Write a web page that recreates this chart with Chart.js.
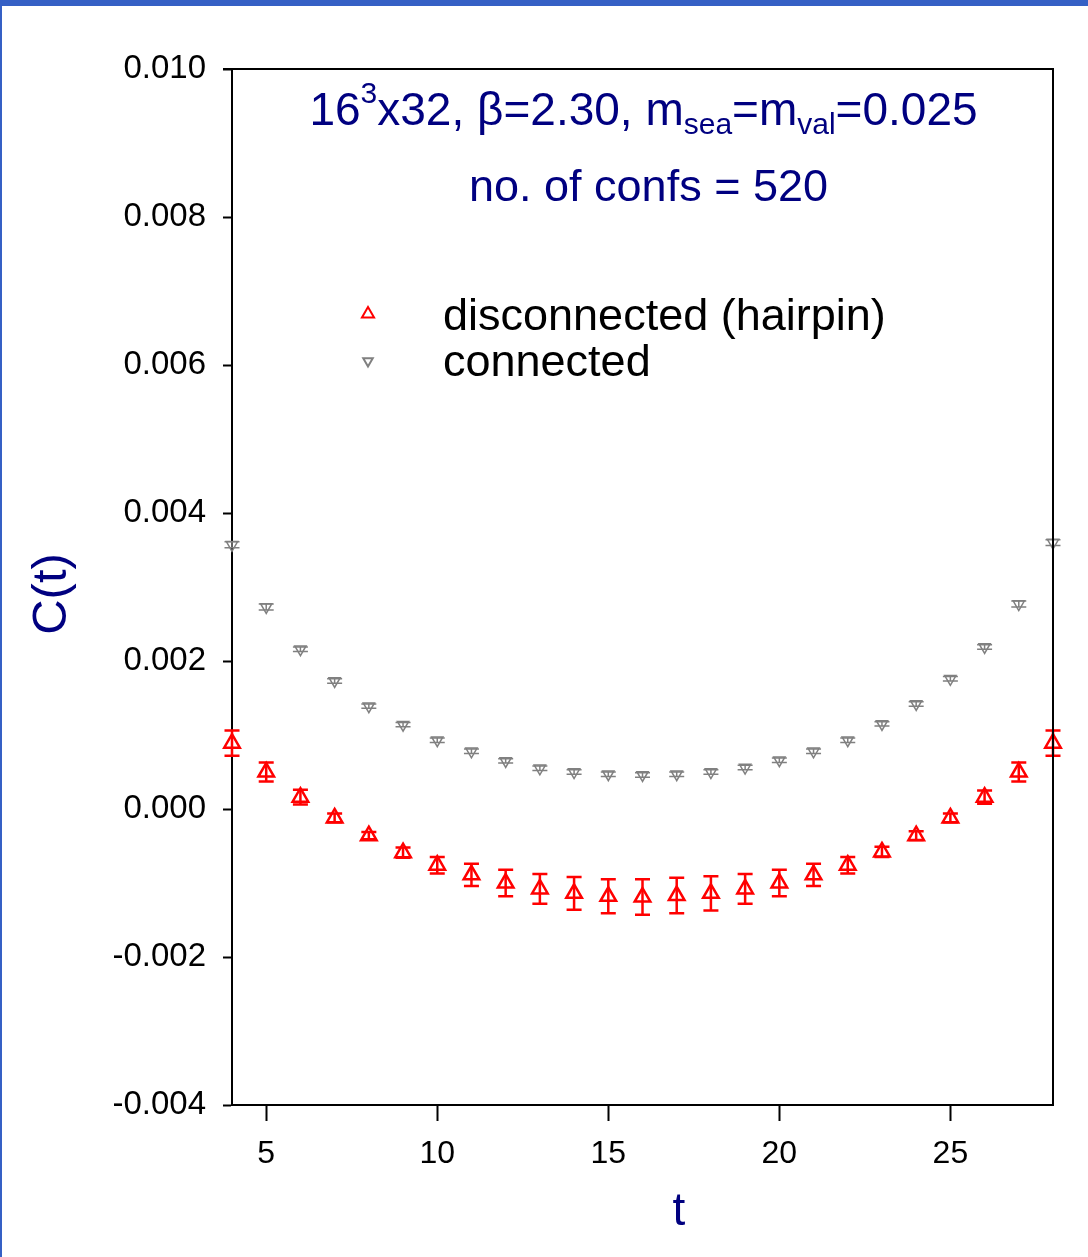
<!DOCTYPE html>
<html>
<head>
<meta charset="utf-8">
<script src="https://cdn.jsdelivr.net/npm/chart.js@4.4.1/dist/chart.umd.min.js"></script>
<style>
  html, body { margin: 0; padding: 0; background: #fff; }
  #wrap { position: relative; width: 1088px; height: 1257px; overflow: hidden; }
  #frameTop { position: absolute; left: 0; top: 0; width: 1088px; height: 6px; background: #3560c5; }
  #frameLeft { position: absolute; left: 0; top: 0; width: 2px; height: 1257px; background: #3560c5; }
</style>
</head>
<body>
<div id="wrap">
  <canvas id="corrChart" width="1088" height="1257"></canvas>
  <div id="frameTop"></div>
  <div id="frameLeft"></div>
</div>
<script>
// Data
const tValues = [4, 5, 6, 7, 8, 9, 10, 11, 12, 13, 14, 15, 16, 17, 18, 19, 20, 21, 22, 23, 24, 25, 26, 27, 28];

const connectedC = [0.00357, 0.00273, 0.00216, 0.00173, 0.00139, 0.00114, 0.00093, 0.00078, 0.00065,
  0.00055, 0.00050, 0.00047, 0.00046, 0.00047, 0.00050, 0.00056, 0.00066, 0.00078, 0.00093,
  0.00115, 0.00142, 0.00176, 0.00219, 0.00277, 0.00360];
const connectedErr = [0.00004, 0.00004, 0.00003, 0.00003, 0.00003, 0.00003, 0.00003, 0.00003, 0.00003,
  0.00003, 0.00003, 0.00003, 0.00003, 0.00003, 0.00003, 0.00003, 0.00003, 0.00003, 0.00003,
  0.00003, 0.00003, 0.00003, 0.00003, 0.00004, 0.00004];

const hairpinC = [0.00089, 0.00050, 0.00016, -0.00012, -0.00036, -0.00059, -0.00076, -0.00089, -0.00100,
  -0.00108, -0.00114, -0.00118, -0.00119, -0.00117, -0.00114, -0.00108, -0.00100, -0.00089, -0.00076,
  -0.00058, -0.00036, -0.00012, 0.00016, 0.00050, 0.00089];
const hairpinErr = [0.00017, 0.00013, 0.00010, 0.00006, 0.00005, 0.00007, 0.00011, 0.00015, 0.00018,
  0.00020, 0.00022, 0.00023, 0.00024, 0.00024, 0.00023, 0.00020, 0.00018, 0.00015, 0.00011,
  0.00007, 0.00006, 0.00006, 0.00009, 0.00013, 0.00017];

const xTickValues = [5, 10, 15, 20, 25];
const yTickValues = [-0.004, -0.002, 0.000, 0.002, 0.004, 0.006, 0.008, 0.010];

const FONT = '"Liberation Sans", Arial, sans-serif';
const NAVY = '#000080';

function toPoints(ys, errs) {
  return tValues.map((t, i) => ({ x: t, y: ys[i], err: errs[i] }));
}

// vertical error bars with caps, drawn through the y scale
const errorBars = {
  id: 'errorBars',
  afterDatasetsDraw(chart) {
    const ctx = chart.ctx;
    const yScale = chart.scales.y;
    chart.data.datasets.forEach((ds, di) => {
      const meta = chart.getDatasetMeta(di);
      ctx.save();
      ctx.strokeStyle = ds.borderColor;
      ctx.lineWidth = ds.errWidth;
      meta.data.forEach((pt, i) => {
        const d = ds.data[i];
        const top = yScale.getPixelForValue(d.y + d.err);
        const bot = yScale.getPixelForValue(d.y - d.err);
        const x = pt.x;
        const cap = 7.5;
        ctx.beginPath();
        ctx.moveTo(x, top); ctx.lineTo(x, bot);
        ctx.moveTo(x - cap, top); ctx.lineTo(x + cap, top);
        ctx.moveTo(x - cap, bot); ctx.lineTo(x + cap, bot);
        ctx.stroke();
      });
      ctx.restore();
    });
  }
};

// frame on top/right, titles, legend, axis titles
const decorations = {
  id: 'decorations',
  afterDraw(chart) {
    const ctx = chart.ctx;
    const a = chart.chartArea;
    ctx.save();
    ctx.strokeStyle = '#000';
    ctx.lineWidth = 2;
    ctx.beginPath();
    ctx.moveTo(a.left - 9, a.top); ctx.lineTo(a.right, a.top); ctx.lineTo(a.right, a.bottom);
    ctx.stroke();

    // title line 1 with super/subscripts
    const big = 46, small = 30;
    const parts = [
      { s: '16', f: big, dy: 0 },
      { s: '3', f: small, dy: -22 },
      { s: 'x32, \u03b2=2.30, m', f: big, dy: 0 },
      { s: 'sea', f: small, dy: 9 },
      { s: '=m', f: big, dy: 0 },
      { s: 'val', f: small, dy: 9 },
      { s: '=0.025', f: big, dy: 0 }
    ];
    let total = 0;
    parts.forEach(p => { ctx.font = p.f + 'px ' + FONT; p.w = ctx.measureText(p.s).width; total += p.w; });
    const cx = (a.left + a.right) / 2;
    let x = cx + 1 - total / 2;
    ctx.fillStyle = NAVY;
    ctx.textBaseline = 'alphabetic';
    ctx.textAlign = 'left';
    parts.forEach(p => {
      ctx.font = p.f + 'px ' + FONT;
      ctx.fillText(p.s, x, 125 + p.dy);
      x += p.w;
    });
    ctx.font = '45px ' + FONT;
    ctx.textAlign = 'center';
    ctx.fillText('no. of confs = 520', cx + 6, 201);

    // legend
    const legendRows = [
      { ds: chart.data.datasets[0], y: 330, my: 314 },
      { ds: chart.data.datasets[1], y: 376, my: 361 }
    ];
    legendRows.forEach(r => {
      ctx.strokeStyle = r.ds.borderColor;
      ctx.fillStyle = 'rgba(0,0,0,0)';
      Chart.helpers.drawPoint(ctx, {
        pointStyle: 'triangle', rotation: r.ds.rotation, radius: r.ds.legendRadius, borderWidth: r.ds.borderWidth
      }, a.left + 136, r.my);
      ctx.fillStyle = '#000';
      ctx.textAlign = 'left';
      ctx.font = '45px ' + FONT;
      ctx.fillText(r.ds.label, a.left + 211, r.y);
    });

    // axis titles
    ctx.fillStyle = NAVY;
    ctx.textAlign = 'center';
    ctx.font = '46px ' + FONT;
    ctx.fillText('t', 679, 1225);
    ctx.save();
    ctx.translate(66, 594);
    ctx.rotate(-Math.PI / 2);
    ctx.font = '49px ' + FONT;
    ctx.fillText('C(t)', 0, 0);
    ctx.restore();
    ctx.restore();
  }
};

new Chart(document.getElementById('corrChart'), {
  type: 'scatter',
  data: {
    datasets: [
      {
        label: 'disconnected (hairpin)',
        data: toPoints(hairpinC, hairpinErr),
        pointStyle: 'triangle',
        rotation: 0,
        pointRadius: 9,
        legendRadius: 7,
        borderColor: '#ff0000',
        backgroundColor: 'rgba(0,0,0,0)',
        borderWidth: 2.5,
        errWidth: 2.5,
        clip: false,
        showLine: false
      },
      {
        label: 'connected',
        data: toPoints(connectedC, connectedErr),
        pointStyle: 'triangle',
        rotation: 180,
        pointRadius: 6.5,
        legendRadius: 5.5,
        borderColor: '#808080',
        backgroundColor: 'rgba(0,0,0,0)',
        borderWidth: 1.5,
        errWidth: 1.5,
        clip: false,
        showLine: false
      }
    ]
  },
  options: {
    responsive: false,
    animation: false,
    devicePixelRatio: 1,
    layout: { autoPadding: false, padding: { left: 0, top: 69, right: 35, bottom: 0 } },
    plugins: { legend: { display: false }, tooltip: { enabled: false } },
    elements: { point: { hoverRadius: 9 } },
    scales: {
      x: {
        type: 'linear',
        min: 4,
        max: 28,
        afterBuildTicks: s => { s.ticks = xTickValues.map(v => ({ value: v })); },
        afterFit: s => { s.height = 152; },
        grid: { drawOnChartArea: false, drawTicks: true, tickLength: 16, tickWidth: 2, tickColor: '#000' },
        border: { display: true, color: '#000', width: 2 },
        ticks: { color: '#000', font: { size: 32, family: FONT }, padding: 14, maxRotation: 0 }
      },
      y: {
        type: 'linear',
        min: -0.004,
        max: 0.010,
        afterBuildTicks: s => { s.ticks = yTickValues.map(v => ({ value: v })); },
        afterFit: s => { s.width = 232; },
        grid: { drawOnChartArea: false, drawTicks: true, tickLength: 9, tickWidth: 2, tickColor: '#000' },
        border: { display: true, color: '#000', width: 2 },
        ticks: {
          color: '#000',
          font: { size: 33, family: FONT },
          padding: 17,
          callback: v => (Math.abs(v) < 1e-9 ? '0.000' : v.toFixed(3))
        }
      }
    }
  },
  plugins: [errorBars, decorations]
});
</script>
</body>
</html>
